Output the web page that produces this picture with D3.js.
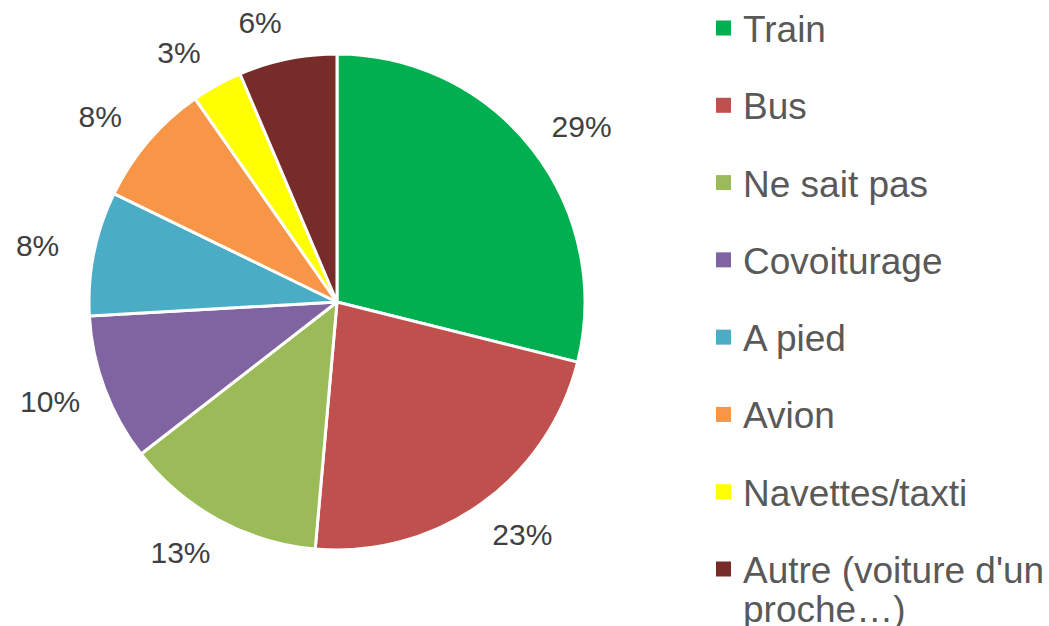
<!DOCTYPE html>
<html>
<head>
<meta charset="utf-8">
<script src="https://cdn.jsdelivr.net/npm/d3@7"></script>
<style>
	body { margin: 0; background: #fff; }
	svg { display: block; font-family: "Liberation Sans", Arial, sans-serif; }
</style>
</head>
<body>
<div id="wrapper"></div>
<script>
// Data
const categories = ['Train', 'Bus', 'Ne sait pas', 'Covoiturage', 'A pied', 'Avion', 'Navettes/taxti', "Autre (voiture d'un proche…)"]
const values = [28.9, 22.5, 13.1, 9.6, 8.1, 8.1, 3.3, 6.4]
const pctLabels = ['29%', '23%', '13%', '10%', '8%', '8%', '3%', '6%']
const colors = ['#00B050', '#C0504D', '#9BBB59', '#8064A2', '#4BACC6', '#F79646', '#FFFF00', '#772C2A']
const legendLines = [['Train'], ['Bus'], ['Ne sait pas'], ['Covoiturage'], ['A pied'], ['Avion'], ['Navettes/taxti'], ["Autre (voiture d'un", 'proche…)']]

function drawPie() {
	const dimensions = {
		width: 1049,
		height: 626,
		cx: 337,
		cy: 302,
		radius: 248
	}

	const wrapper = d3.select('#wrapper')
		.append('svg')
			.attr('width', dimensions.width)
			.attr('height', dimensions.height)

	const bounds = wrapper.append('g')
		.attr('transform', `translate(${dimensions.cx}, ${dimensions.cy})`)

	const rows = categories.map((c, i) => ({
		name: c,
		value: values[i],
		label: pctLabels[i],
		color: colors[i]
	}))

	const pie = d3.pie()
		.value(d => d.value)
		.sort(null)

	const arc = d3.arc()
		.innerRadius(0)
		.outerRadius(dimensions.radius)

	const arcs = pie(rows)

	// Slices
	bounds.selectAll('path')
		.data(arcs)
		.join('path')
			.attr('d', arc)
			.attr('fill', d => d.data.color)
			.attr('stroke', '#fff')
			.attr('stroke-width', 3)
			.attr('stroke-linejoin', 'round')

	// Percentage labels, outside end
	const labelR = 285
	const colorScale = d3.scaleOrdinal().domain(categories).range(colors)
	bounds.selectAll('text.pct')
		.data(arcs)
		.join('text')
			.attr('class', 'pct')
			.attr('x', d => {
				const a = (d.startAngle + d.endAngle) / 2
				return labelR * Math.sin(a) + Math.sign(Math.sin(a)) * 20
			})
			.attr('y', d => {
				const a = (d.startAngle + d.endAngle) / 2
				return -labelR * Math.cos(a)
			})
			.attr('text-anchor', 'middle')
			.attr('dominant-baseline', 'central')
			.attr('font-size', '30px')
			.attr('fill', '#404040')
			.text(d => d.data.label)

	// Legend
	const legendY = d3.scalePoint()
		.domain(categories)
		.range([28, 569])

	const legend = wrapper.append('g')
		.selectAll('g')
		.data(categories)
		.join('g')
			.attr('transform', d => `translate(716, ${legendY(d)})`)

	legend.append('rect')
		.attr('x', 0)
		.attr('y', -7.5)
		.attr('width', 15)
		.attr('height', 15)
		.attr('fill', d => colorScale(d))

	legend.append('text')
		.attr('x', 27)
		.attr('y', 14)
		.attr('font-size', '37px')
		.attr('fill', '#595959')
		.selectAll('tspan')
		.data((d, i) => legendLines[i])
		.join('tspan')
			.attr('x', 27)
			.attr('dy', (d, i) => i === 0 ? 0 : 39)
			.text(d => d)
}
drawPie()
</script>
</body>
</html>
